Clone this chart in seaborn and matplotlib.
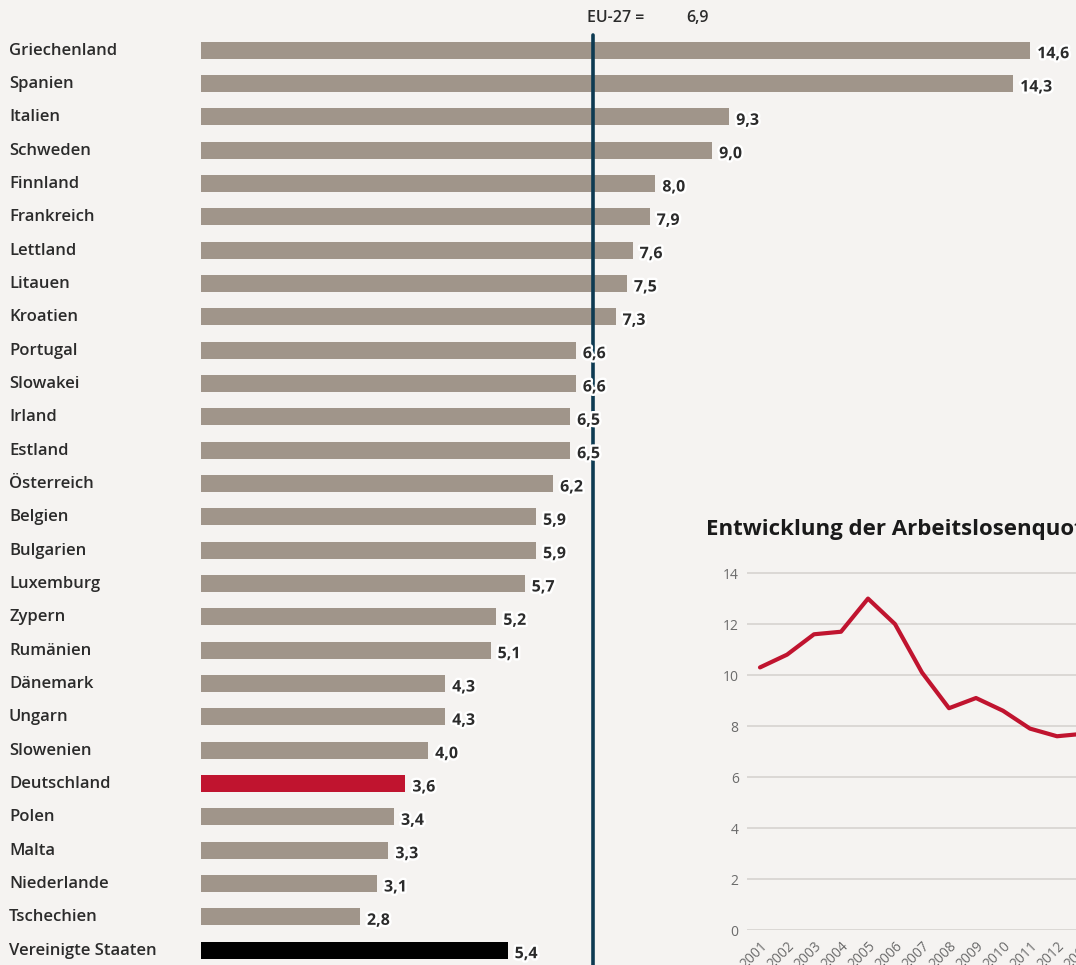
import matplotlib
matplotlib.use("Agg")
import matplotlib.pyplot as plt
import matplotlib.transforms as mtransforms
import matplotlib.patheffects as pe
import seaborn as sns
import pandas as pd

countries = ["Griechenland", "Spanien", "Italien", "Schweden", "Finnland", "Frankreich",
             "Lettland", "Litauen", "Kroatien", "Portugal", "Slowakei", "Irland", "Estland",
             "Österreich", "Belgien", "Bulgarien", "Luxemburg", "Zypern", "Rumänien",
             "Dänemark", "Ungarn", "Slowenien", "Deutschland", "Polen", "Malta",
             "Niederlande", "Tschechien", "Vereinigte Staaten"]
rates = [14.6, 14.3, 9.3, 9.0, 8.0, 7.9, 7.6, 7.5, 7.3, 6.6, 6.6, 6.5, 6.5, 6.2, 5.9, 5.9,
         5.7, 5.2, 5.1, 4.3, 4.3, 4.0, 3.6, 3.4, 3.3, 3.1, 2.8, 5.4]
eu_value = 6.9

years = [2001, 2002, 2003, 2004, 2005, 2006, 2007, 2008, 2009, 2010, 2011, 2012, 2013]
de_rate = [10.3, 10.8, 11.6, 11.7, 13.0, 12.0, 10.1, 8.7, 9.1, 8.6, 7.9, 7.6, 7.7]
inset_yticks = [0, 2, 4, 6, 8, 10, 12, 14]

BG = "#f5f3f1"
GREY = "#a0958a"
RED = "#c0142f"
NAVY = "#0d3a52"
TXT = "#2b2b2b"

sns.set_theme(style="white")
plt.rcParams["font.family"] = ["Open Sans", "DejaVu Sans"]

W, H = 1076, 965
fig = plt.figure(figsize=(W / 100, H / 100), dpi=100, facecolor=BG)

def fx(px):
    return px / W

def fy(py):
    return 1 - py / H

# main bar chart
ax = fig.add_axes([fx(201), 0, fx(W - 201), 1])
ax.set_facecolor("none")
df = pd.DataFrame({"land": countries, "rate": rates})
palette = {c: GREY for c in countries}
palette["Deutschland"] = RED
palette["Vereinigte Staaten"] = "#000000"
sns.barplot(data=df, x="rate", y="land", hue="land", palette=palette, order=countries,
            orient="h", width=0.51, legend=False, ax=ax, saturation=1, linewidth=0)
ax.set_xlim(0, (W - 201) / 56.8)
ax.set_ylim(27.45, -1.5)
ax.axis("off")

for i, (c, v) in enumerate(zip(countries, rates)):
    t = ax.annotate(f"{v:.1f}".replace(".", ","), xy=(v, i), xytext=(5, -3),
                    textcoords="offset points", ha="left", va="center",
                    fontsize=11.5, fontweight="bold", color=TXT)
    t.set_path_effects([pe.withStroke(linewidth=3.5, foreground="white")])

trans = mtransforms.blended_transform_factory(fig.transFigure, ax.transData)
for i, c in enumerate(countries):
    ax.text(fx(9), i + 0.02, c, transform=trans, ha="left", va="center",
            fontsize=12, fontweight="semibold", color=TXT)

ax.axvline(eu_value, ymin=0, ymax=(H - 35) / H, color=NAVY, lw=2.6)
fig.text(fx(587), fy(18), "EU-27 =", ha="left", va="center", fontsize=11.5,
         fontweight="semibold", color=TXT)
fig.text(fx(686), fy(18), f"{eu_value:.1f}".replace(".", ","), ha="left", va="center",
         fontsize=11.5, fontweight="semibold", color=TXT)

# inset line chart
px_per_year = 27.0
x_left = 2001 - (760 - 747) / px_per_year
ax2_w_px = 600
ax2 = fig.add_axes([fx(747), 1 - 930 / H, fx(ax2_w_px), (930 - 568) / H])
ax2.set_facecolor("none")
sns.lineplot(x=years, y=de_rate, color=RED, lw=3, ax=ax2)
ax2.set_xlim(x_left, x_left + ax2_w_px / px_per_year)
ax2.set_ylim(0, 14.2)
ax2.set_yticks(inset_yticks)
ax2.set_yticklabels([str(t) for t in inset_yticks], fontsize=10, color="#6b6b6b")
ax2.set_xticks(years)
ax2.set_xticklabels([str(y) for y in years], rotation=45, ha="right",
                    rotation_mode="anchor", fontsize=10, color="#6b6b6b")
ax2.tick_params(axis="both", length=0, pad=6)
ax2.grid(axis="y", color="#d9d6d3", lw=1.3)
ax2.set_axisbelow(True)
for s in ax2.spines.values():
    s.set_visible(False)

fig.text(fx(706), fy(530), "Entwicklung der Arbeitslosenquote", ha="left", va="center",
         fontsize=16, fontweight="bold", color="#1a1a1a")

fig.savefig("out.png", dpi=100, facecolor=BG)
